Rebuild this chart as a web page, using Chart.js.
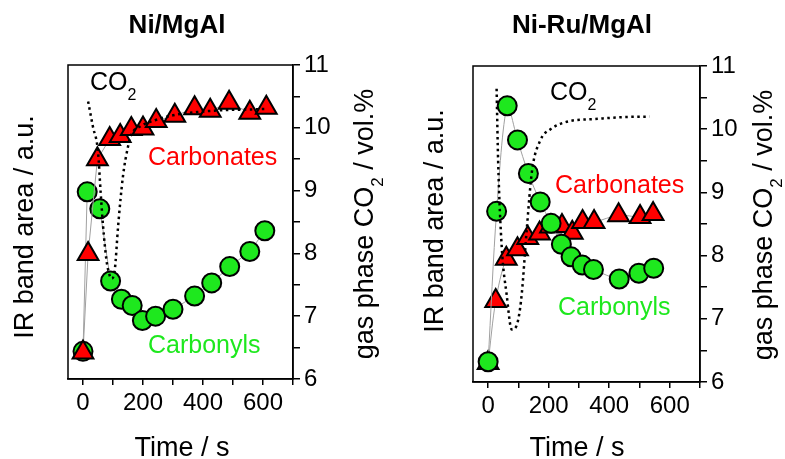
<!DOCTYPE html>
<html>
<head>
<meta charset="utf-8">
<script src="https://cdn.jsdelivr.net/npm/chart.js@4"></script>
<style>
  body { margin: 0; background: #fff; }
  #wrap { position: relative; width: 785px; height: 459px; }
  canvas { position: absolute; top: 0; }
  #chartNi { left: 0; }
  #chartNiRu { left: 400px; }
</style>
</head>
<body>
<div id="wrap">
  <canvas id="chartNi" width="400" height="459"></canvas>
  <canvas id="chartNiRu" width="385" height="459"></canvas>
</div>
<script>
/* Ni/MgAl: band areas and gas phase CO2 vs time */
let timeCarbNi = [0, 17, 48, 89, 124, 161, 200, 244, 306, 372, 424, 487, 556, 611]
let carbonatesNi = [6.42, 7.99, 9.50, 9.82, 9.87, 9.98, 9.99, 10.11, 10.19, 10.31, 10.27, 10.40, 10.24, 10.32]
let timeCoNi = [0, 14, 56, 92, 128, 164, 198, 242, 300, 372, 429, 489, 556, 606]
let carbonylsNi = [6.44, 8.98, 8.71, 7.56, 7.27, 7.17, 6.93, 7.00, 7.11, 7.32, 7.53, 7.79, 8.03, 8.36]
let timeCo2Ni = [17, 33, 50, 59, 67, 78, 87, 95, 106, 117, 133, 150, 161, 190, 240, 300, 380, 460, 540, 610]
let co2Ni = [10.42, 10.02, 9.62, 8.96, 8.43, 7.90, 7.68, 7.60, 7.74, 8.43, 9.22, 9.70, 9.89, 10.02, 10.12, 10.20, 10.25, 10.28, 10.29, 10.30]

/* Ni-Ru/MgAl */
let timeCarbNiRu = [0, 25, 60, 97, 131, 170, 206, 244, 278, 312, 350, 431, 502, 545]
let carbonatesNiRu = [6.30, 7.28, 7.95, 8.10, 8.28, 8.35, 8.46, 8.47, 8.36, 8.53, 8.53, 8.64, 8.61, 8.66]
let timeCoNiRu = [0, 28, 63, 97, 133, 172, 208, 242, 274, 311, 348, 433, 498, 547]
let carbonylsNiRu = [6.32, 8.70, 10.37, 9.83, 9.30, 8.85, 8.51, 8.18, 7.98, 7.85, 7.78, 7.63, 7.72, 7.80]
let timeCo2NiRu = [28, 33, 45, 61, 78, 89, 100, 111, 128, 145, 172, 206, 272, 350, 439, 533]
let co2NiRu = [10.64, 9.50, 8.13, 7.39, 6.83, 6.85, 7.00, 7.39, 8.44, 9.34, 9.82, 10.00, 10.13, 10.16, 10.19, 10.20]

/* tick values and their labels (time every 100 s, label every 200 s) */
let timeTicks = [0, 100, 200, 300, 400, 500, 600, 700]
let timeTickLabels = ['0', '', '200', '', '400', '', '600', '']
let co2Ticks = [6, 6.5, 7, 7.5, 8, 8.5, 9, 9.5, 10, 10.5, 11]
let co2TickLabels = ['6', '', '7', '', '8', '', '9', '', '10', '', '11']

let FONT = '"Liberation Sans", Arial, sans-serif'

function points(xs, ys) {
    return xs.map((x, i) => ({ x: x, y: ys[i] }))
}

// draw a row of text pieces, some of them subscript; optionally rotated to read bottom-up
function drawRich(ctx, parts, x, y, size, rotated, align) {
    ctx.save()
    ctx.translate(x, y)
    if (rotated) ctx.rotate(-Math.PI / 2)
    let subSize = Math.round(size * 0.62)
    let widths = parts.map(p => {
        ctx.font = (p.sub ? subSize : size) + 'px ' + FONT
        return ctx.measureText(p.text).width
    })
    let total = widths.reduce((a, b) => a + b, 0)
    let cx = align === 'center' ? -total / 2 : 0
    ctx.textAlign = 'left'
    ctx.textBaseline = 'alphabetic'
    parts.forEach((p, i) => {
        ctx.font = (p.sub ? subSize : size) + 'px ' + FONT
        ctx.fillText(p.text, cx, p.sub ? size * 0.38 : 0)
        cx += widths[i]
    })
    ctx.restore()
}

function panelText(p) {
    return {
        id: 'panelText',
        afterDraw(chart) {
            let ctx = chart.ctx
            let a = chart.chartArea
            ctx.save()
            // frame round the plot
            ctx.strokeStyle = '#000'
            ctx.lineWidth = 1.5
            ctx.strokeRect(a.left, a.top, a.right - a.left, a.bottom - a.top)

            ctx.fillStyle = '#000'
            ctx.textAlign = 'center'
            ctx.textBaseline = 'alphabetic'
            ctx.font = 'bold 26px ' + FONT
            ctx.fillText(p.title, p.titleX, 33)

            drawRich(ctx, [{ text: 'Time / s' }], p.timeX, 456, 27, false, 'center')
            drawRich(ctx, [{ text: 'IR band area / a.u.' }], p.leftTitleX, p.leftTitleY, 27, true, 'center')
            drawRich(ctx, [{ text: 'gas phase CO' }, { text: '2', sub: true }, { text: ' / vol.%' }],
                p.rightTitleX, p.rightTitleY, 27, true, 'center')

            drawRich(ctx, [{ text: 'CO' }, { text: '2', sub: true }], p.co2LabelX, p.co2LabelY, 25, false, 'left')

            ctx.fillStyle = '#ff0000'
            drawRich(ctx, [{ text: 'Carbonates' }], p.carbX, p.carbY, 25, false, 'left')
            ctx.fillStyle = '#1ee81e'
            drawRich(ctx, [{ text: 'Carbonyls' }], p.coX, p.coY, 25, false, 'left')
            ctx.restore()
        }
    }
}

function makePanel(canvasId, p) {
    return new Chart(document.getElementById(canvasId), {
        type: 'scatter',
        data: {
            datasets: [
                {
                    label: 'CO2',
                    data: points(p.co2Time, p.co2),
                    yAxisID: 'y2',
                    showLine: true,
                    borderColor: '#000',
                    borderWidth: 2.5,
                    borderDash: [2.5, 3.5],
                    pointRadius: 0,
                    cubicInterpolationMode: 'monotone',
                    order: 0
                },
                {
                    label: 'Carbonates',
                    data: points(p.carbTime, p.carbonates),
                    yAxisID: 'y',
                    showLine: true,
                    borderColor: '#a0a0a0',
                    borderWidth: 1,
                    tension: p.tension,
                    pointStyle: 'triangle',
                    pointRadius: 12,
                    pointBackgroundColor: '#ff0000',
                    pointBorderColor: '#000',
                    pointBorderWidth: 2,
                    order: p.carbOrder
                },
                {
                    label: 'Carbonyls',
                    data: points(p.coTime, p.carbonyls),
                    yAxisID: 'y',
                    showLine: true,
                    borderColor: '#a0a0a0',
                    borderWidth: 1,
                    tension: p.tension,
                    pointStyle: 'circle',
                    pointRadius: 9.5,
                    pointBackgroundColor: '#1ee81e',
                    pointBorderColor: '#000',
                    pointBorderWidth: 2,
                    order: p.coOrder
                }
            ]
        },
        options: {
            responsive: false,
            animation: false,
            layout: { padding: { left: p.padLeft, top: p.padTop, right: 0, bottom: 0 } },
            plugins: { legend: { display: false }, tooltip: { enabled: false } },
            scales: {
                x: {
                    type: 'linear',
                    min: -50,
                    max: 700,
                    afterBuildTicks: s => { s.ticks = timeTicks.map(v => ({ value: v })) },
                    afterFit: s => { s.height = p.xHeight },
                    ticks: {
                        callback: (v, i) => timeTickLabels[i],
                        autoSkip: false,
                        maxRotation: 0,
                        color: '#000',
                        padding: 4,
                        font: { family: FONT, size: 24 }
                    },
                    grid: { drawOnChartArea: false, tickLength: 6, color: '#000', lineWidth: 1.5 },
                    border: { color: '#000', width: 1.5 }
                },
                y: { display: false, min: 6, max: 11 },
                y2: {
                    position: 'right',
                    min: 6,
                    max: 11,
                    afterBuildTicks: s => { s.ticks = co2Ticks.map(v => ({ value: v })) },
                    afterFit: s => { s.width = p.y2Width },
                    ticks: {
                        callback: (v, i) => co2TickLabels[i],
                        autoSkip: false,
                        color: '#000',
                        padding: 4,
                        font: { family: FONT, size: 24 }
                    },
                    grid: { drawOnChartArea: false, tickLength: 7, color: '#000', lineWidth: 1.5 },
                    border: { color: '#000', width: 1.5 }
                }
            }
        },
        plugins: [panelText(p)]
    })
}

makePanel('chartNi', {
    carbTime: timeCarbNi, carbonates: carbonatesNi,
    coTime: timeCoNi, carbonyls: carbonylsNi,
    co2Time: timeCo2Ni, co2: co2Ni,
    tension: 0, carbOrder: 1, coOrder: 2,
    padLeft: 68, padTop: 65, xHeight: 80, y2Width: 107,
    title: 'Ni/MgAl', titleX: 177, timeX: 182,
    leftTitleX: 33, leftTitleY: 227, rightTitleX: 373, rightTitleY: 224,
    co2LabelX: 90, co2LabelY: 90,
    carbX: 148, carbY: 165, coX: 148, coY: 353
})

makePanel('chartNiRu', {
    carbTime: timeCarbNiRu, carbonates: carbonatesNiRu,
    coTime: timeCoNiRu, carbonyls: carbonylsNiRu,
    co2Time: timeCo2NiRu, co2: co2NiRu,
    tension: 0.3, carbOrder: 2, coOrder: 1,
    padLeft: 73, padTop: 66, xHeight: 77, y2Width: 85,
    title: 'Ni-Ru/MgAl', titleX: 182, timeX: 177,
    leftTitleX: 43, leftTitleY: 221, rightTitleX: 372, rightTitleY: 225,
    co2LabelX: 150, co2LabelY: 100,
    carbX: 155, carbY: 193, coX: 158, coY: 315
})
</script>
</body>
</html>
